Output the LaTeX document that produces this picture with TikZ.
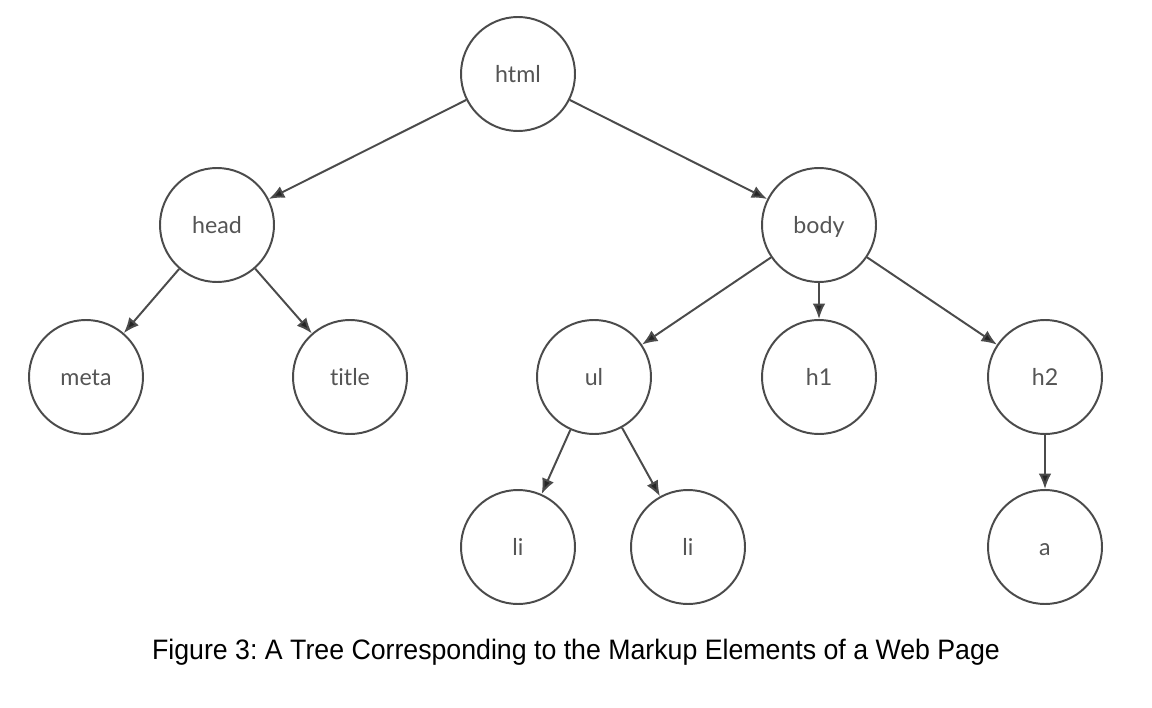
\documentclass[tikz,border=0pt]{standalone}
\usepackage{fontspec}
\setmainfont{Lato}[Ligatures=NoCommon]
\newfontfamily\capfont{Liberation Sans}
\usetikzlibrary{arrows.meta}
\definecolor{edgegray}{RGB}{75,75,75}
\definecolor{textgray}{RGB}{85,85,85}
\frenchspacing
\begin{document}
\begin{tikzpicture}[x=0.25mm,y=-0.25mm,>={Latex[length=11pt,width=9pt,fill=black!85]},
  elem/.style={circle,draw=edgegray,line width=1.4pt,fill=white,minimum size=28.5mm,inner sep=0pt,
    text=textgray,text height=12pt,text depth=0pt,font=\fontsize{16.5}{18}\selectfont},
  link/.style={draw=edgegray,line width=1.4pt,->}]
\useasboundingbox (0,0) rectangle (1152,708);

% root and first level
\node[elem] (html) at (518,74) {html};
\node[elem] (head) at (217,225) {head};
\node[elem] (body) at (819,225) {body};

% second level
\node[elem] (meta) at (86,377) {meta};
\node[elem] (title) at (350,377) {title};
\node[elem] (ul) at (594,377) {ul};
\node[elem] (h1) at (819,377) {h1};
\node[elem] (h2) at (1045,377) {h2};

% third level
\node[elem] (li1) at (518,547) {li};
\node[elem] (li2) at (688,547) {li};
\node[elem] (a) at (1045,547) {a};

\draw [link] (html) -- (head);
\draw [link] (html) -- (body);
\draw [link] (head) -- (meta);
\draw [link] (head) -- (title);
\draw [link] (body) -- (ul);
\draw [link] (body) -- (h1);
\draw [link] (body) -- (h2);
\draw [link] (ul) -- (li1);
\draw [link] (ul) -- (li2);
\draw [link] (h2) -- (a);

\node[font=\capfont\fontsize{20}{24}\selectfont] (caption) at (576,652)
  {\scalebox{0.95}[1]{Figure 3: A Tree Corresponding to the Markup Elements of a Web Page}};
\end{tikzpicture}
\end{document}
